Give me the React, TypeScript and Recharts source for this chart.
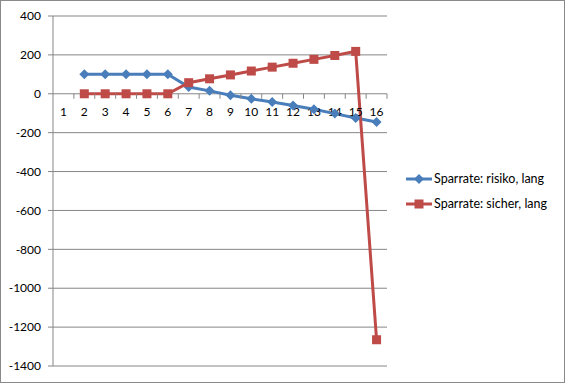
import React from "react";
import { LineChart, Line, XAxis, YAxis, CartesianGrid, Legend, ReferenceDot } from "recharts";

const categories = ["1", "2", "3", "4", "5", "6", "7", "8", "9", "10", "11", "12", "13", "14", "15", "16"];
const risiko = [null, 100, 100, 100, 100, 100, 35, 15, -8, -26, -42, -60, -80, -102, -125, -145];
const sicher = [null, 0, 0, 0, 0, 0, 57, 77, 97, 117, 137, 157, 177, 197, 218, -1265];
const yTicks = [-1400, -1200, -1000, -800, -600, -400, -200, 0, 200, 400];

const BLUE = "#4A7EBB";
const RED = "#BE4B48";
const GRID = "#868686";
const FONT = "Lato, 'Open Sans', sans-serif";

const data = categories.map((c, i) => ({ x: i + 1, name: c, risiko: risiko[i], sicher: sicher[i] }));
const boundaries = categories.map((_, i) => i + 1.5);

function Diamond(props: any) {
  const { cx, cy } = props;
  if (cx == null || cy == null || props.value == null) return null;
  const s = 5;
  return <path d={`M${cx},${cy - s}L${cx + s},${cy}L${cx},${cy + s}L${cx - s},${cy}Z`} fill={BLUE} />;
}

function Square(props: any) {
  const { cx, cy } = props;
  if (cx == null || cy == null || props.value == null) return null;
  const s = 4.5;
  return <rect x={cx - s} y={cy - s} width={s * 2} height={s * 2} fill={RED} />;
}

function CatLabel(label: string) {
  return (props: any) => (
    <text x={props.cx} y={props.cy + 22} textAnchor="middle" fontSize={12} fontFamily={FONT} fill="#000">
      {label}
    </text>
  );
}

function TickMark(props: any) {
  return <line x1={props.cx} x2={props.cx} y1={props.cy} y2={props.cy + 5} stroke={GRID} strokeWidth={1} />;
}

function LegendContent() {
  const items = [
    { label: "Sparrate: risiko, lang", color: BLUE, marker: "diamond" },
    { label: "Sparrate: sicher, lang", color: RED, marker: "square" },
  ];
  return (
    <div style={{ fontFamily: FONT, fontSize: 12.5, color: "#000" }}>
      {items.map((it) => (
        <div key={it.label} style={{ display: "flex", alignItems: "center", height: 25 }}>
          <svg width={26} height={12} style={{ marginRight: 2 }}>
            <line x1={0} x2={26} y1={6} y2={6} stroke={it.color} strokeWidth={3} />
            {it.marker === "diamond" ? (
              <path d="M13,1L18,6L13,11L8,6Z" fill={it.color} />
            ) : (
              <rect x={8.5} y={1.5} width={9} height={9} fill={it.color} />
            )}
          </svg>
          <span>{it.label}</span>
        </div>
      ))}
    </div>
  );
}

export default function App() {
  return (
    <div
      style={{
        position: "fixed",
        left: 0,
        top: 0,
        width: 565,
        height: 383,
        boxSizing: "border-box",
        border: "1px solid #8a8a8a",
        background: "#fff",
      }}
    >
      <div style={{ position: "absolute", left: -1, top: -1 }}>
        <LineChart width={565} height={383} data={data} margin={{ top: 16, right: 178, bottom: 17, left: 0 }}>
          <CartesianGrid vertical={false} stroke={GRID} />
          <XAxis dataKey="x" type="number" domain={[0.5, 16.5]} hide />
          <YAxis
            width={53}
            domain={[-1400, 400]}
            ticks={yTicks}
            interval={0}
            axisLine={{ stroke: GRID }}
            tickLine={{ stroke: GRID }}
            tickSize={5}
            tickMargin={7}
            tick={{ fontSize: 12, fontFamily: FONT, fill: "#000" }}
          />
          {boundaries.map((b) => (
            <ReferenceDot key={"t" + b} x={b} y={0} r={0} shape={TickMark} ifOverflow="visible" />
          ))}
          {data.map((d) => (
            <ReferenceDot key={"l" + d.x} x={d.x} y={0} r={0} shape={CatLabel(d.name)} ifOverflow="visible" />
          ))}
          <Legend
            layout="vertical"
            align="center"
            verticalAlign="middle"
            content={<LegendContent />}
            wrapperStyle={{ left: 406, top: 166, width: 160 }}
          />
          <Line
            dataKey="risiko"
            name="Sparrate: risiko, lang"
            stroke={BLUE}
            strokeWidth={3}
            dot={<Diamond />}
            activeDot={false}
            isAnimationActive={false}
          />
          <Line
            dataKey="sicher"
            name="Sparrate: sicher, lang"
            stroke={RED}
            strokeWidth={3}
            dot={<Square />}
            activeDot={false}
            isAnimationActive={false}
          />
        </LineChart>
      </div>
    </div>
  );
}
